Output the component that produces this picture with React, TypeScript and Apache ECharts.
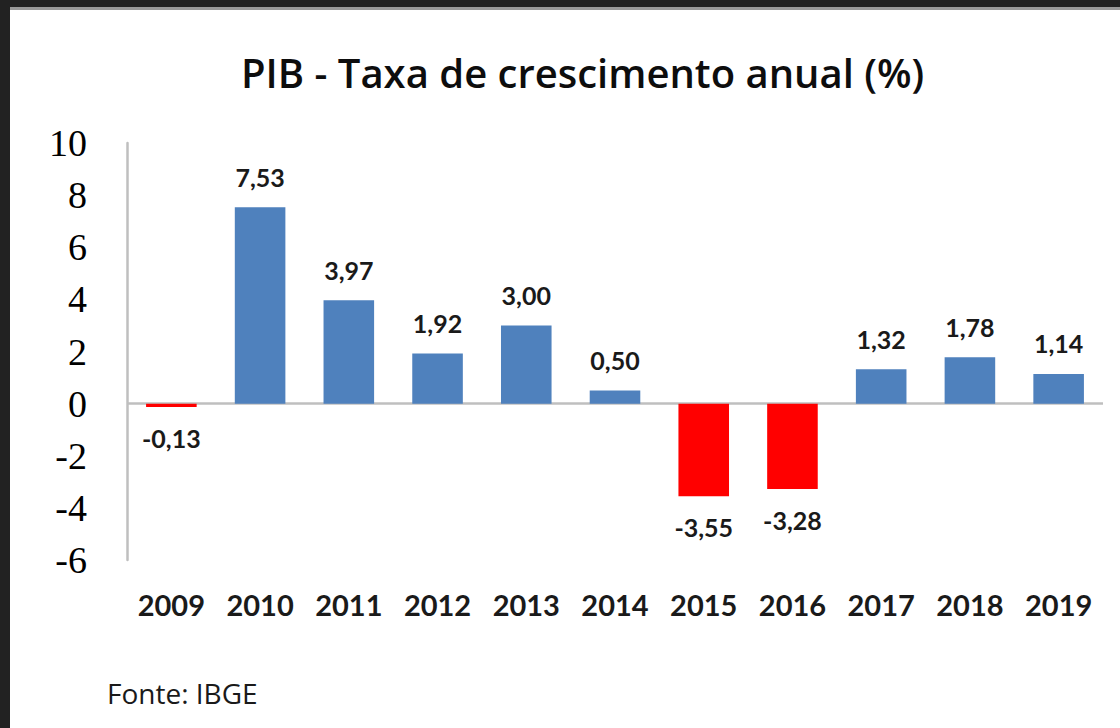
import React, { useEffect, useRef } from "react";
import * as echarts from "echarts";

const years = ["2009", "2010", "2011", "2012", "2013", "2014", "2015", "2016", "2017", "2018", "2019"];
const growth = [-0.13, 7.53, 3.97, 1.92, 3.0, 0.5, -3.55, -3.28, 1.32, 1.78, 1.14];
const yTicks = { min: -6, max: 10, interval: 2 };
const titleText = "PIB - Taxa de crescimento anual (%)";
const sourceText = "Fonte: IBGE";

const BLUE = "#4f81bd";
const RED = "#ff0000";

export default function App() {
  const ref = useRef<HTMLDivElement>(null);
  useEffect(() => {
    if (!ref.current) return;
    const chart = echarts.init(ref.current, null, { renderer: "svg" });
    const data = growth.map((v) => ({
      value: v,
      itemStyle: { color: v < 0 ? RED : BLUE },
      label: { position: v < 0 ? "bottom" : "top" },
    }));
    chart.setOption({
      animation: false,
      backgroundColor: "#ffffff",
      title: {
        text: titleText,
        left: 226,
        top: 37,
        textStyle: { fontFamily: "Open Sans", fontWeight: 600, fontSize: 40, color: "#0d0d0d" },
      },
      grid: { left: 117, top: 133, width: 976, height: 417, containLabel: false },
      xAxis: {
        type: "category",
        data: years,
        axisLine: { show: false, onZero: false },
        axisTick: { show: false },
        axisLabel: {
          margin: 30,
          fontFamily: "Lato",
          fontWeight: "bold",
          fontSize: 29,
          color: "#1a1a1a",
        },
      },
      yAxis: {
        type: "value",
        min: yTicks.min,
        max: yTicks.max,
        interval: yTicks.interval,
        splitLine: { show: false },
        axisTick: { show: false },
        axisLine: { show: true, lineStyle: { color: "#bfbfbf", width: 2.5 } },
        axisLabel: {
          margin: 40,
          fontFamily: "Liberation Serif",
          fontSize: 38,
          color: "#000000",
        },
      },
      series: [
        {
          type: "bar",
          data,
          barWidth: "57%",
          label: {
            show: true,
            distance: 18,
            fontFamily: "Lato",
            fontWeight: "bold",
            fontSize: 25,
            color: "#1a1a1a",
            formatter: (p: any) => p.value.toFixed(2).replace(".", ","),
          },
          markLine: {
            silent: true,
            symbol: "none",
            label: { show: false },
            lineStyle: { color: "#bfbfbf", width: 2.5, type: "solid" },
            data: [{ yAxis: 0 }],
            z: 1,
          },
        },
      ],
      graphic: [
        {
          type: "text",
          left: 97,
          top: 669,
          style: { text: sourceText, fontFamily: "Open Sans", fontSize: 28, fill: "#1a1a1a" },
        },
      ],
    });
    return () => chart.dispose();
  }, []);

  return (
    <div style={{ position: "absolute", left: 0, top: 0, width: 1120, height: 728, background: "#222222", overflow: "hidden" }}>
      <div style={{ position: "absolute", left: 10, top: 7, width: 1110, height: 3, background: "#9a9a9a" }} />
      <div ref={ref} style={{ position: "absolute", left: 10, top: 10, width: 1110, height: 718 }} />
    </div>
  );
}
